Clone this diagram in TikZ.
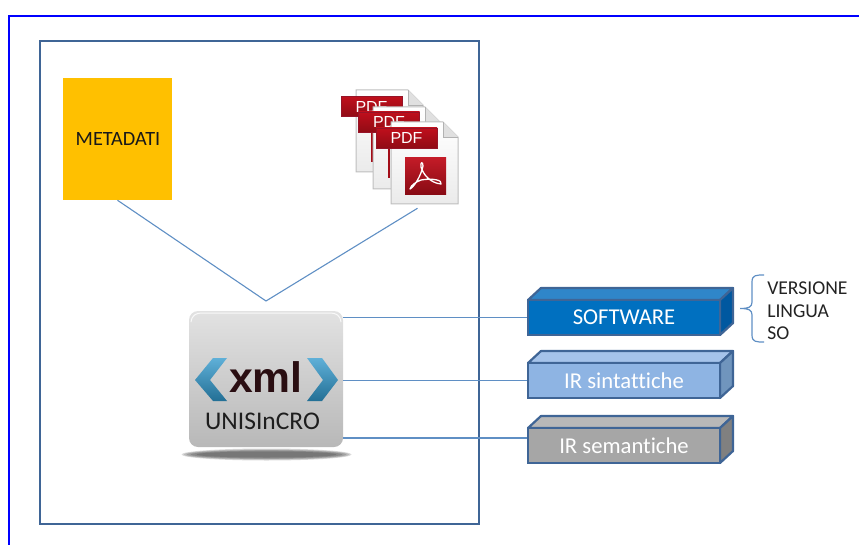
\documentclass[tikz,border=0pt]{standalone}
\usepackage{fontspec}
\setmainfont[Ligatures=NoCommon]{Carlito}
\newfontfamily\xmlfont{Liberation Sans}
\usetikzlibrary{calc,positioning}
\newlength{\pu}\setlength{\pu}{0.75pt}
\definecolor{linkblue}{HTML}{5F8FC4}
\definecolor{edgeblue}{HTML}{3F6596}
\definecolor{pdfred}{HTML}{C00F1C}
\definecolor{chevtop}{HTML}{5FB0D8}
\definecolor{chevbot}{HTML}{236F95}
\definecolor{metafill}{RGB}{255,192,0}
\tikzset{
  x=0.75pt,y=-0.75pt,
  link/.style={draw=linkblue,line width=1.1\pu},
  metabox/.style={fill=metafill,draw=none,inner sep=0pt},
  bluebox/.style={draw=edgeblue,line width=2.2\pu,inner sep=0pt,minimum width=192\pu,minimum height=35\pu,text=white,font=\fontsize{17}{20}\selectfont},
  sidepart/.style={draw=edgeblue,line width=2.2\pu,line join=round},
  pdfpage/.style={draw={rgb,255:red,190;green,190;blue,190},line width=1\pu,top color=white,bottom color=black!8},
  pdflabel/.style={draw={rgb,255:red,150;green,20;blue,40},line width=.8\pu,top color=pdfred,bottom color=pdfred!75!black,text=white,inner sep=0pt,minimum width=61\pu,minimum height=20\pu,font=\xmlfont\fontsize{12}{13}\selectfont},
  sidetext/.style={anchor=west,inner sep=0pt,text={rgb,255:red,35;green,35;blue,35},font=\fontsize{14.7}{17}\selectfont},
}
\newcommand{\pdfsheet}[2]{% left, top; width 67, height 82
  \path[pdfpage] (#1,#2) -- ++(52,0) -- ++(15,15) -- ++(0,67) -- ++(-67,0) -- cycle;
  \fill[black!12] ({#1+52},#2) -- ++(0,15) -- ++(15,0) -- cycle;
  \draw[black!30,line width=.7\pu] ({#1+52},#2) -- ++(0,15) -- ++(15,0);
}
\begin{document}
\begin{tikzpicture}
\useasboundingbox (0,0) rectangle (859,545);
% outer frame
\draw[blue,line width=2\pu] (859,16) -- (9,16) -- (9,545);
% main panel
\node[draw=edgeblue,line width=2.6\pu,inner sep=0pt,minimum width=439\pu,minimum height=483\pu] (panel) at (259.5,282.5) {};
% metadata
\node[metabox,minimum width=109\pu,minimum height=122\pu] (metadati) at (117.5,139) {};
\node[inner sep=0pt,font=\fontsize{15.2}{18}\selectfont,text=black!90] (metatext) at (118,139) {METADATI};
% pdf stack
\pdfsheet{356}{90}
\fill[pdfred!85!black] (371,117) rectangle (373,162);
\node[pdflabel] (pdfa) at (371.5,106.5) {PDF};
\pdfsheet{373}{107}
\fill[pdfred!85!black] (388,132) rectangle (390,178);
\node[pdflabel] (pdfb) at (389,122) {PDF};
\pdfsheet{391}{122}
\node[minimum width=67\pu,minimum height=82\pu,inner sep=0pt] (pdf) at (424.5,163) {};
\node[pdflabel] (pdfc) at (406.5,138) {PDF};
\shade[top color=pdfred!95!white,bottom color=pdfred!70!black] (405,158) rectangle (446,195);
\draw[white,line width=1.3\pu,line join=round,line cap=round]
  (410,189) .. controls (414,187) and (421,176) .. (423,166)
  .. controls (423,161) and (420,162) .. (421,167)
  .. controls (423,174) and (430,183) .. (441,184)
  .. controls (443,180) and (432,178) .. (421,180)
  .. controls (416,182) and (411,185) .. (410,189) -- cycle;
% xml tile
\foreach \w/\h in {85/6,83/5.2,80/4.5,76/3.8,70/3}{
  \fill[black,opacity=.14] (266.5,454.5) ellipse ({\w} and {\h});
}
\node[rounded corners=9\pu,minimum width=154\pu,minimum height=136\pu,inner sep=0pt,
  top color={rgb,255:red,226;green,226;blue,226},bottom color={rgb,255:red,184;green,184;blue,184}] (tile) at (266,379) {};
\draw[white,line width=1\pu,opacity=.8] (191,322) .. controls (192,315) and (196,313) .. (202,313) -- (330,313) .. controls (336,313) and (340,315) .. (341,322);
\shade[top color=chevtop,bottom color=chevbot] (195,380) -- (213,358) -- (227,358) -- (210,380) -- (227,401) -- (213,401) -- cycle;
\shade[top color=chevtop,bottom color=chevbot] (338,380) -- (322,358) -- (307,358) -- (323,380) -- (307,401) -- (322,401) -- cycle;
\node[inner sep=0pt,font=\xmlfont\bfseries\fontsize{32}{36}\selectfont,text={rgb,255:red,42;green,14;blue,18}] (xmltext) at (266,377) {xml};
\node[inner sep=0pt,font=\fontsize{19.1}{22}\selectfont,text={rgb,255:red,30;green,30;blue,30}] (tiletext) at (262.5,421) {UNISInCRO};
% 3D boxes
\draw[sidepart,fill={rgb,255:red,47;green,134;blue,201}] (528,300) -- (541,288) -- (733,288) -- (720,300) -- cycle;
\draw[sidepart,fill={rgb,255:red,0;green,88;blue,160}] (720,300) -- (733,288) -- (733,323) -- (720,335) -- cycle;
\node[bluebox,fill={rgb,255:red,0;green,112;blue,192}] (software) at (624,317.5) {SOFTWARE};
\draw[sidepart,fill={rgb,255:red,165;green,195;blue,234}] (528,363) -- (541,351) -- (733,351) -- (720,363) -- cycle;
\draw[sidepart,fill={rgb,255:red,112;green,149;blue,189}] (720,363) -- (733,351) -- (733,386) -- (720,398) -- cycle;
\node[bluebox,fill={rgb,255:red,142;green,180;blue,227}] (sint) at (624,380.5) {IR sintattiche};
\draw[sidepart,fill={rgb,255:red,184;green,184;blue,184}] (528,428) -- (541,416) -- (733,416) -- (720,428) -- cycle;
\draw[sidepart,fill={rgb,255:red,128;green,128;blue,128}] (720,428) -- (733,416) -- (733,451) -- (720,463) -- cycle;
\node[bluebox,fill={rgb,255:red,166;green,166;blue,166}] (sem) at (624,445.5) {IR semantiche};
% connectors
\coordinate (junction) at (266,301);
\draw[link] (metadati.south) -- (junction) -- ([xshift=-7\pu,yshift=-4\pu]pdf.south);
\draw[link] ([yshift=61.5\pu]tile.east) -- (software.west);
\draw[link] ([yshift=-1.5\pu]tile.east) -- (sint.west);
\draw[link] ([yshift=-59\pu]tile.east) -- ([yshift=7.5\pu]sem.west);
% brace
\coordinate (bracetip) at (740,308.5);
\draw[link,line width=1.2\pu] (764,275) .. controls (756,275) and (752,275) .. (752,282) -- (752,302) .. controls (752,307) and (749,308.5) .. (bracetip)
  (bracetip) .. controls (749,308.5) and (752,310) .. (752,315) -- (752,335) .. controls (752,342) and (756,342) .. (764,342);
\node[sidetext] (versione) at (767,288) {VERSIONE};
\node[sidetext] (lingua) at (767,311) {LINGUA};
\node[sidetext] (so) at (767,333) {SO};
\end{tikzpicture}
\end{document}
